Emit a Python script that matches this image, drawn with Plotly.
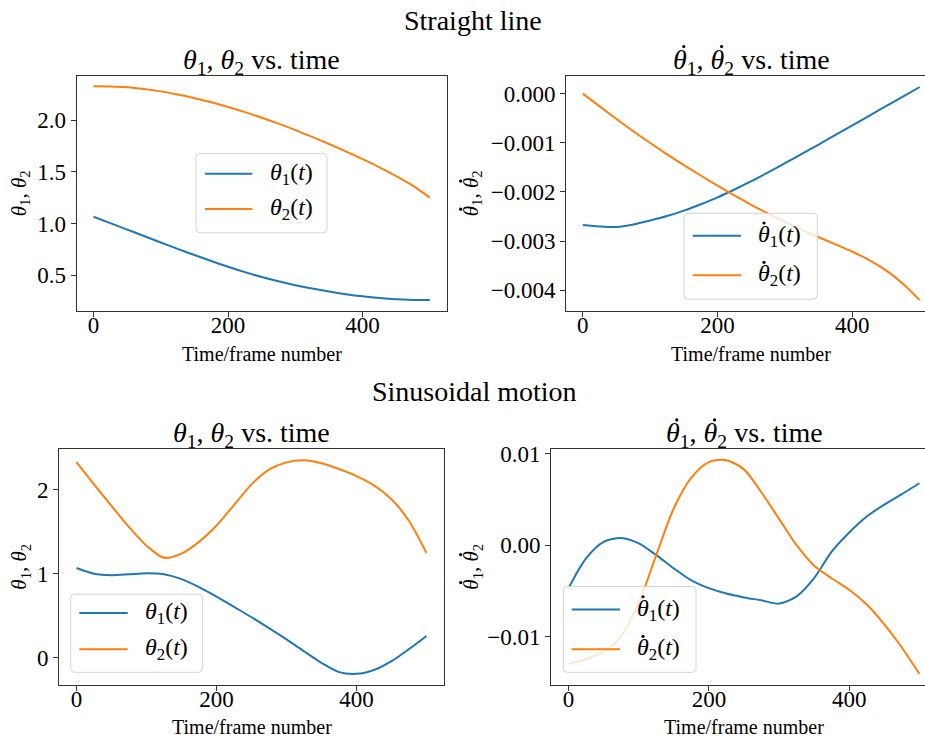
import plotly.graph_objects as go

# ---- data -------------------------------------------------------------
frames = [0, 25, 50, 75, 100, 125, 150, 175, 200, 225, 250,
          275, 300, 325, 350, 375, 400, 425, 450, 475, 500]

# straight-line trajectory
line_theta1 = [1.065, 1.003, 0.941, 0.879, 0.816, 0.754, 0.694, 0.636, 0.580, 0.528, 0.481,
               0.439, 0.402, 0.369, 0.340, 0.315, 0.294, 0.277, 0.265, 0.259, 0.257]
line_theta2 = [2.330, 2.329, 2.322, 2.305, 2.281, 2.250, 2.215, 2.175, 2.130, 2.080, 2.026,
               1.968, 1.906, 1.840, 1.771, 1.699, 1.624, 1.545, 1.460, 1.365, 1.251]
line_dtheta1 = [-0.00267, -0.00270, -0.00271, -0.00266, -0.00258, -0.00249, -0.00238, -0.00225,
                -0.00211, -0.00195, -0.00178, -0.00160, -0.001415, -0.001225, -0.001035, -0.00084,
                -0.000645, -0.00045, -0.000255, -0.00006, 0.000135]
line_dtheta2 = [0.0, -0.00026, -0.000515, -0.000765, -0.001005, -0.001235, -0.001455, -0.001665,
                -0.00187, -0.00207, -0.00226, -0.00244, -0.00261, -0.00277, -0.00292, -0.003065,
                -0.003215, -0.003385, -0.003595, -0.003865, -0.00420]

# sinusoidal trajectory
sine_theta1 = [1.068, 1.000, 0.982, 0.993, 1.006, 0.993, 0.935, 0.840, 0.727, 0.605, 0.480,
               0.350, 0.215, 0.074, -0.065, -0.175, -0.196, -0.150, -0.045, 0.100, 0.257]
sine_theta2 = [2.332, 2.067, 1.810, 1.558, 1.335, 1.190, 1.240, 1.380, 1.575, 1.820, 2.067,
               2.244, 2.330, 2.356, 2.320, 2.250, 2.166, 2.055, 1.890, 1.630, 1.248]
sine_dtheta1 = [-0.0047, -0.00145, 0.00036, 0.00079, 0.00020, -0.00108, -0.00254, -0.00385,
                -0.00470, -0.00530, -0.00572, -0.00604, -0.00640, -0.00560, -0.00360, -0.00070,
                0.00140, 0.00315, 0.00445, 0.00560, 0.00679]
sine_dtheta2 = [-0.0130, -0.01247, -0.01165, -0.00995, -0.00633, -0.00108, 0.00405, 0.00741,
                0.00911, 0.00932, 0.00831, 0.00578, 0.00289, 0.0, -0.00224, -0.00362,
                -0.00488, -0.00650, -0.00868, -0.01121, -0.0141]

x_ticks = [0, 200, 400]
ticks_tl = [0.5, 1.0, 1.5, 2.0]
ticks_tr = [0.0, -0.001, -0.002, -0.003, -0.004]
ticks_bl = [0, 1, 2]
ticks_br = [-0.01, 0.0, 0.01]

# ---- styling ----------------------------------------------------------
W, H = 925, 742
BLUE, ORANGE = "#1f77b4", "#ff7f0e"
FONT = "Liberation Serif"
SPINE = "#333333"
TICK_SIZE, LABEL_SIZE, YLABEL_SIZE, TITLE_SIZE, LEGEND_SIZE = 23, 20, 21, 28, 24

TH = "<i>θ</i>"
pair_label = f"{TH}<sub>1</sub>, {TH}<sub>2</sub>"
title_text = f"{pair_label} vs. time"

# advance widths (in em) used to place the dots of the time-derivative symbols
EM_THETA, EM_SUB, EM_SEP = 0.5, 0.35, 0.5          # "θ", subscript digit, ", "
EM_PAIR = 2 * EM_THETA + 2 * EM_SUB + EM_SEP       # "θ1, θ2"
EM_TITLE = EM_PAIR + 3.267                         # + " vs. time"
DOT_ALONG, DOT_ABOVE = 0.333, 0.54                 # dot offset from glyph start / text middle


def px_x(p):
    return p / W


def px_y(p):
    return 1 - p / H


def padded(*series):
    lo = min(min(s) for s in series)
    hi = max(max(s) for s in series)
    span = hi - lo
    return [lo - 0.05 * span, hi + 0.05 * span]


fig = go.Figure()

panels = [
    ("x", "y", line_theta1, line_theta2),
    ("x2", "y2", line_dtheta1, line_dtheta2),
    ("x3", "y3", sine_theta1, sine_theta2),
    ("x4", "y4", sine_dtheta1, sine_dtheta2),
]

for xa, ya, s1, s2 in panels:
    for vals, col in ((s1, BLUE), (s2, ORANGE)):
        fig.add_trace(go.Scatter(
            x=frames, y=vals, mode="lines",
            line=dict(color=col, width=2, shape="spline", smoothing=0.8),
            xaxis=xa, yaxis=ya, hoverinfo="skip", showlegend=False,
        ))

axis_common = dict(
    showgrid=False, zeroline=False, showline=True, linecolor=SPINE, linewidth=1,
    ticks="outside", ticklen=5, tickwidth=1, tickcolor=SPINE,
    tickfont=dict(family=FONT, size=TICK_SIZE, color="black"),
)
x_common = dict(tickvals=x_ticks, mirror=True, ticklabelstandoff=-11, **axis_common)

# pixel boxes of each panel
tl = dict(l=76.7, r=446.7, t=69.3, b=306.7)
tr = dict(l=566.0, r=925.0, t=70.0, b=306.7)
bl = dict(l=59.0, r=444.0, t=446.7, b=684.0)
br = dict(l=551.0, r=925.0, t=446.7, b=684.0)

fig.update_layout(
    xaxis=dict(domain=[px_x(tl["l"]), px_x(tl["r"])], range=[-25, 525], anchor="y", **x_common),
    yaxis=dict(domain=[px_y(tl["b"]), px_y(tl["t"])], range=padded(line_theta1, line_theta2),
               anchor="x", tickvals=ticks_tl, tickformat=".1f", mirror=True, **axis_common),
    xaxis2=dict(domain=[px_x(tr["l"]), 1.0], range=[-25, 507.8], anchor="y2", **x_common),
    yaxis2=dict(domain=[px_y(tr["b"]), px_y(tr["t"])], range=padded(line_dtheta1, line_dtheta2),
                anchor="x2", tickvals=ticks_tr, tickformat=".3f", **axis_common),
    xaxis3=dict(domain=[px_x(bl["l"]), px_x(bl["r"])], range=[-25, 525], anchor="y3", **x_common),
    yaxis3=dict(domain=[px_y(bl["b"]), px_y(bl["t"])], range=padded(sine_theta1, sine_theta2),
                anchor="x3", tickvals=ticks_bl, tickformat="d", mirror=True, **axis_common),
    xaxis4=dict(domain=[px_x(br["l"]), 1.0], range=[-25, 508.0], anchor="y4", **x_common),
    yaxis4=dict(domain=[px_y(br["b"]), px_y(br["t"])], range=padded(sine_dtheta1, sine_dtheta2),
                anchor="x4", tickvals=ticks_br, tickformat=".2f", **axis_common),
)


def note(text, x, y, size, angle=0, xanchor="center"):
    fig.add_annotation(text=text, x=px_x(x), y=px_y(y), xref="paper", yref="paper",
                       xanchor=xanchor, yanchor="middle", showarrow=False, textangle=angle,
                       font=dict(family=FONT, size=size, color="black"))


def dot(x, y, r=1.6):
    fig.add_shape(type="circle", xref="paper", yref="paper", layer="above",
                  x0=px_x(x - r), x1=px_x(x + r), y0=px_y(y + r), y1=px_y(y - r),
                  fillcolor="black", line=dict(width=0))


def dots_horizontal(left, mid_y, size):
    """Dots over both thetas of a left-to-right 'θ1, θ2' run starting at `left`."""
    second = (EM_THETA + EM_SUB + EM_SEP) * size
    for off in (0.0, second):
        dot(left + off + DOT_ALONG * size, mid_y - DOT_ABOVE * size)


def dots_vertical(mid_x, start_y, size):
    """Dots beside both thetas of a bottom-to-top 'θ1, θ2' run starting at `start_y`."""
    second = (EM_THETA + EM_SUB + EM_SEP) * size
    for off in (0.0, second):
        dot(mid_x - DOT_ABOVE * size, start_y - off - DOT_ALONG * size)


def legend_box(x0, y0, x1, y1, rows, line_l, line_r, text_l, rates):
    r = 4
    ax, ay = r / W, r / H
    X0, X1, Y0, Y1 = px_x(x0), px_x(x1), px_y(y1), px_y(y0)
    path = (f"M{X0 + ax},{Y0} L{X1 - ax},{Y0} Q{X1},{Y0} {X1},{Y0 + ay} "
            f"L{X1},{Y1 - ay} Q{X1},{Y1} {X1 - ax},{Y1} L{X0 + ax},{Y1} "
            f"Q{X0},{Y1} {X0},{Y1 - ay} L{X0},{Y0 + ay} Q{X0},{Y0} {X0 + ax},{Y0} Z")
    fig.add_shape(type="path", path=path, xref="paper", yref="paper", layer="above",
                  fillcolor="rgba(255,255,255,0.8)", line=dict(color="#d4d4d4", width=1))
    for k, (ry, col) in enumerate(zip(rows, (BLUE, ORANGE)), start=1):
        fig.add_shape(type="line", xref="paper", yref="paper", layer="above",
                      x0=px_x(line_l), x1=px_x(line_r), y0=px_y(ry), y1=px_y(ry),
                      line=dict(color=col, width=2))
        note(f"{TH}<sub>{k}</sub>(<i>t</i>)", text_l, ry, LEGEND_SIZE, xanchor="left")
        if rates:
            dot(text_l + DOT_ALONG * LEGEND_SIZE, ry - DOT_ABOVE * LEGEND_SIZE)


# legends
legend_box(196, 148, 327, 228, (168.3, 204.0), 205, 252.3, 268, False)
legend_box(684, 208.3, 817.3, 295, (231.0, 270.7), 692.7, 741, 756, True)
legend_box(70.7, 592.7, 202.3, 671.7, (611.7, 648.3), 79.3, 127.7, 143, False)
legend_box(563.3, 585, 696, 671.7, (608.3, 648.3), 571.7, 620, 635, True)

# figure headings
note("Straight line", 473, 14, TITLE_SIZE)
note("Sinusoidal motion", 474, 388, TITLE_SIZE)

# panel titles
title_w = EM_TITLE * TITLE_SIZE
for cx, cy, rates in (((tl["l"] + tl["r"]) / 2, 55, False), (751, 55, True),
                      ((bl["l"] + bl["r"]) / 2, 432, False), (744, 432, True)):
    note(title_text, cx, cy, TITLE_SIZE)
    if rates:
        dots_horizontal(cx - title_w / 2, cy, TITLE_SIZE)

# x labels
note("Time/frame number", (tl["l"] + tl["r"]) / 2, 350, LABEL_SIZE)
note("Time/frame number", 751, 350, LABEL_SIZE)
note("Time/frame number", (bl["l"] + bl["r"]) / 2, 727, LABEL_SIZE)
note("Time/frame number", 744, 727, LABEL_SIZE)

# y labels
pair_h = EM_PAIR * YLABEL_SIZE
for cx, cy, rates in ((20, 188, False), (472, 188, True), (20, 565, False), (472, 565, True)):
    note(pair_label, cx, cy, YLABEL_SIZE, -90)
    if rates:
        dots_vertical(cx, cy + pair_h / 2, YLABEL_SIZE)

fig.update_layout(
    width=W, height=H, margin=dict(l=0, r=0, t=0, b=0),
    paper_bgcolor="white", plot_bgcolor="white", showlegend=False,
    font=dict(family=FONT, size=20, color="black"),
)

fig.write_html("out.html")
